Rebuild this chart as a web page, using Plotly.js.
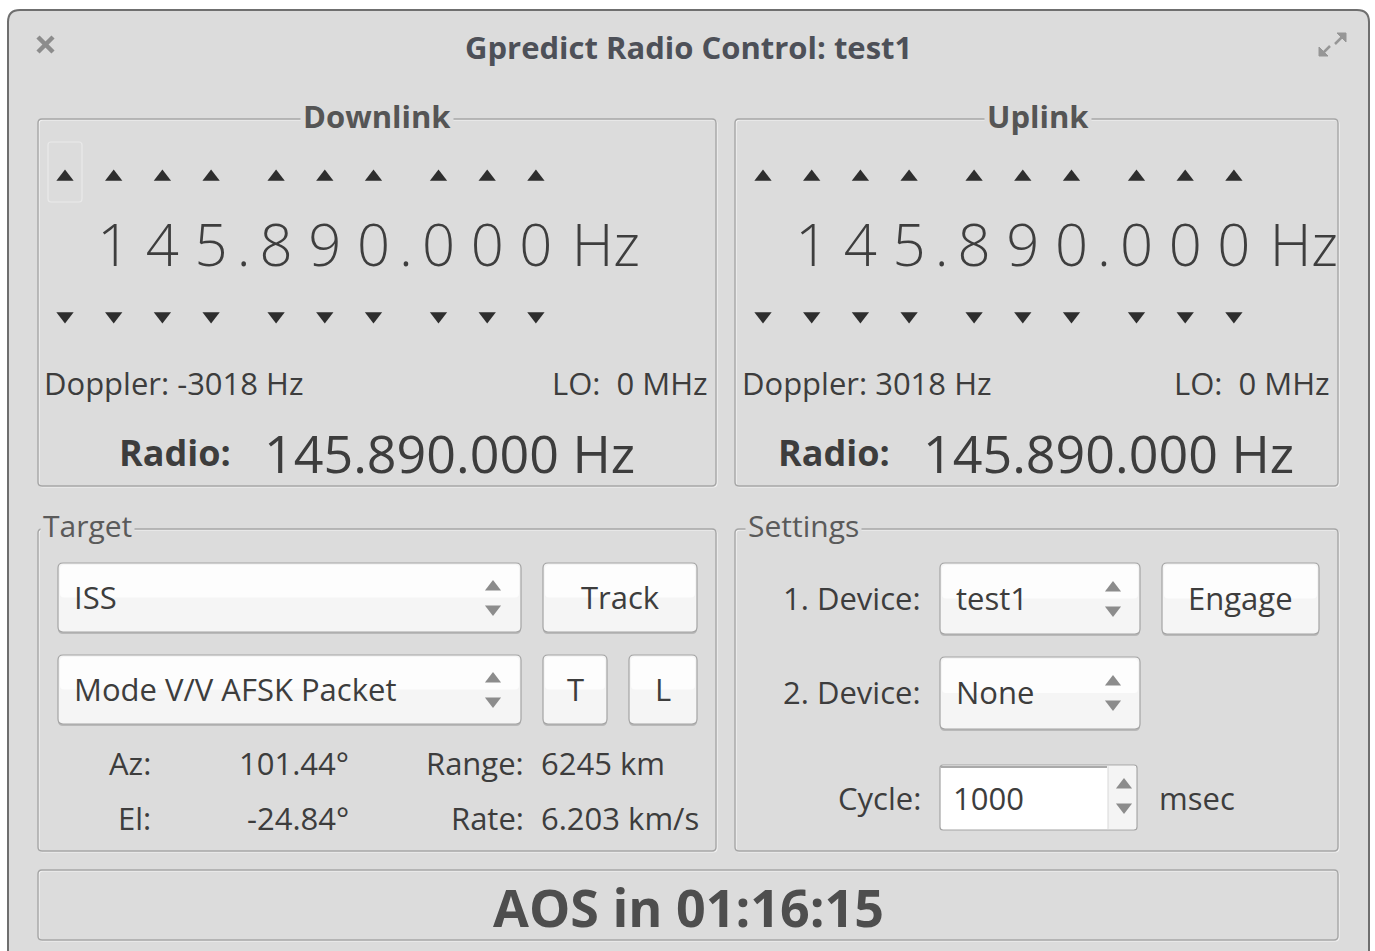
<!DOCTYPE html>
<html>
<head>
<meta charset="utf-8">
<script src="https://cdn.plot.ly/plotly-3.0.1.min.js"></script>
<style>html,body{margin:0;padding:0;background:#fff;}#chart{width:1375px;height:951px;}</style>
</head>
<body>
<div id="chart"></div>
<script>
// ---------- data ----------
const windowTitle = "Gpredict Radio Control: test1";
const panelTitles = ["Downlink", "Uplink", "Target", "Settings"];
const downlinkDigits = [" ", "1", "4", "5", "8", "9", "0", "0", "0", "0"];
const uplinkDigits = [" ", "1", "4", "5", "8", "9", "0", "0", "0", "0"];
const dopplerHz = [-3018, 3018];
const loMHz = [0, 0];
const radioFreq = ["145.890.000 Hz", "145.890.000 Hz"];
const targetSat = "ISS";
const transponder = "Mode V/V AFSK Packet";
const targetLabels = ["Az:", "El:"];
const targetValues = ["101.44°", "-24.84°"];
const rangeLabels = ["Range:", "Rate:"];
const rangeValues = ["6245 km", "6.203 km/s"];
const deviceLabels = ["1. Device:", "2. Device:"];
const deviceValues = ["test1", "None"];
const cycleMsec = 1000;
const aosText = "AOS in 01:16:15";

// ---------- helpers ----------
const FONT = "Open Sans, Noto Sans, sans-serif";
const TXT = "#3d3d3d";
const BG = "#dcdcdc";
function rr(x0, y0, x1, y1, r) {
  return `M${x0 + r},${y0} L${x1 - r},${y0} Q${x1},${y0} ${x1},${y0 + r} L${x1},${y1 - r} Q${x1},${y1} ${x1 - r},${y1} L${x0 + r},${y1} Q${x0},${y1} ${x0},${y1 - r} L${x0},${y0 + r} Q${x0},${y0} ${x0 + r},${y0} Z`;
}
function digitX(base, i) {
  const g = i < 4 ? 0 : (i < 7 ? 1 : 2);
  return base + i * 48.7 + g * 16.3;
}
const shapes = [];
const ann = [];
function shp(path, fill, line, w) {
  shapes.push({type: "path", path: path, xref: "x", yref: "y", layer: "below",
    fillcolor: fill || "rgba(0,0,0,0)", line: {color: line || "rgba(0,0,0,0)", width: w === undefined ? 1 : w}});
}
function txt(x, y, text, size, opts) {
  opts = opts || {};
  ann.push(Object.assign({x: x, y: y, xref: "x", yref: "y", text: text, showarrow: false,
    xanchor: opts.xa || "left", yanchor: "middle",
    font: {family: FONT, size: size, color: opts.color || TXT, weight: opts.bold ? 700 : 400}},
    opts.bg ? {bgcolor: opts.bg, borderpad: 2} : {}));
}
function frame(x0, y0, x1, y1) {
  shp(rr(x0 + 1, y0 + 1, x1 + 1, y1 + 1, 4), null, "#f4f4f4", 1.2);
  shp(rr(x0, y0, x1, y1, 4), null, "#a6a6a6", 1.4);
}
function combo(x0, y0, x1, y1) {
  shp(rr(x0, y0 + 2, x1, y1 + 2, 5), "#b9b9b9", null, 0);
  shp(rr(x0, y0, x1, y1, 5), "#f5f5f5", "#a4a4a4", 1.2);
  shp(rr(x0 + 2, y0 + 2, x1 - 2, (y0 + y1) / 2, 4), "#fdfdfd", null, 0);
}
const spinX = [], spinY = [], spinS = [];
function spinner(x, y) {
  spinX.push(x, x); spinY.push(y - 11, y + 11); spinS.push("triangle-up", "triangle-down");
}

// ---------- window ----------
shp(rr(8, 10, 1369, 990, 12), BG, "#6f6f6f", 2);
txt(688, 47, windowTitle, 31, {xa: "center", bold: true, color: "#4d5058"});
// close icon
shp("M38,37 L53,52", null, "#8c8c8c", 4.5);
shp("M53,37 L38,52", null, "#8c8c8c", 4.5);
// expand icon
shp("M1335,44 L1342,37", null, "#969696", 2.5);
shp("M1337,33 L1346,33 L1346,42 Z", "#969696", "#969696", 1);
shp("M1330,46 L1323,53", null, "#969696", 2.5);
shp("M1319,47 L1319,56 L1328,56 Z", "#969696", "#969696", 1);

// ---------- frames ----------
frame(38, 119, 716, 486);
frame(735, 119, 1338, 486);
frame(38, 529, 716, 851);
frame(735, 529, 1338, 851);
frame(38, 870, 1338, 940);
txt(377, 116, panelTitles[0], 31, {xa: "center", bold: true, bg: BG, color: "#555"});
txt(1038, 116, panelTitles[1], 31, {xa: "center", bold: true, bg: BG, color: "#555"});
txt(40, 525, panelTitles[2], 30, {bg: BG, color: "#5a5a5a"});
txt(745, 525, panelTitles[3], 30, {bg: BG, color: "#5a5a5a"});

// focus box on first arrow
shp(rr(48, 142, 82, 202, 3), null, "#e9e9e9", 1.2);

// ---------- frequency panels ----------
const triX = [], triY = [], triS = [];
const digX = [], digY = [], digT = [];
[[65, downlinkDigits], [763, uplinkDigits]].forEach(function (p) {
  const base = p[0], digits = p[1];
  digits.forEach(function (d, i) {
    const x = digitX(base, i);
    triX.push(x, x); triY.push(177, 316); triS.push("triangle-up", "triangle-down");
    digX.push(x); digY.push(251); digT.push(d);
  });
  digX.push((digitX(base, 3) + digitX(base, 4)) / 2, (digitX(base, 6) + digitX(base, 7)) / 2, digitX(base, 9) + 70);
  digY.push(251, 251, 251);
  digT.push(".", ".", "Hz");
});

txt(42, 383, "Doppler: " + dopplerHz[0] + " Hz", 31);
txt(710, 383, "LO:  " + loMHz[0] + " MHz", 31, {xa: "right"});
txt(740, 383, "Doppler: " + dopplerHz[1] + " Hz", 31);
txt(1332, 383, "LO:  " + loMHz[1] + " MHz", 31, {xa: "right"});
txt(233, 452, "Radio:", 36, {xa: "right", bold: true});
txt(262, 452, radioFreq[0], 52);
txt(892, 452, "Radio:", 36, {xa: "right", bold: true});
txt(921, 452, radioFreq[1], 52);

// ---------- target panel ----------
combo(58, 563, 521, 632);
txt(72, 597, targetSat, 31);
spinner(493, 598);
combo(543, 563, 697, 632);
txt(620, 597, "Track", 31, {xa: "center"});
combo(58, 655, 521, 724);
txt(72, 689, transponder, 31);
spinner(493, 690);
combo(543, 655, 607, 724);
txt(575, 689, "T", 31, {xa: "center"});
combo(629, 655, 697, 724);
txt(663, 689, "L", 31, {xa: "center"});
targetLabels.forEach(function (l, i) {
  const y = [763, 818][i];
  txt(153, y, l, 31, {xa: "right"});
  txt(351, y, targetValues[i], 31, {xa: "right"});
  txt(526, y, rangeLabels[i], 31, {xa: "right"});
  txt(539, y, rangeValues[i], 31);
});

// ---------- settings panel ----------
combo(940, 563, 1140, 634);
txt(954, 598, deviceValues[0], 31);
spinner(1113, 599);
combo(1162, 563, 1319, 634);
txt(1240, 598, "Engage", 31, {xa: "center"});
combo(940, 657, 1140, 729);
txt(954, 692, deviceValues[1], 31);
spinner(1113, 693);
deviceLabels.forEach(function (l, i) {
  txt(923, [598, 692][i], l, 31, {xa: "right"});
});
txt(923, 798, "Cycle:", 31, {xa: "right"});
// spin entry
shp(rr(940, 765, 1137, 830, 3), "#ffffff", "#a4a4a4", 1.2);
shp("M941,767 L1107,767", null, "#8e8e8e", 1.5);
shp(rr(1108, 766, 1136, 829, 2), "#f4f4f4", null, 0);
shp("M1108,766 L1108,829", null, "#d8d8d8", 1);
txt(951, 798, String(cycleMsec), 31);
spinner(1124, 796);
txt(1157, 798, "msec", 31);

// ---------- AOS ----------
txt(688, 906, aosText, 52, {xa: "center", bold: true, color: "#4e4e4e"});

// ---------- traces ----------
const traces = [
  {type: "scatter", mode: "markers", x: triX, y: triY, hoverinfo: "skip",
   marker: {symbol: triS, size: 15, color: "#2e2e2e", line: {width: 0}}},
  {type: "scatter", mode: "markers", x: spinX, y: spinY, hoverinfo: "skip",
   marker: {symbol: spinS, size: 14, color: "#8c8c8c", line: {width: 0}}},
  {type: "scatter", mode: "text", x: digX, y: digY, text: digT, hoverinfo: "skip",
   textposition: "middle center", textfont: {family: FONT, size: 58, color: "#3e3e3e", weight: 350}}
];

const layout = {
  width: 1375, height: 951,
  margin: {l: 0, r: 0, t: 0, b: 0},
  paper_bgcolor: "#ffffff", plot_bgcolor: "#ffffff",
  showlegend: false,
  xaxis: {range: [0, 1375], visible: false, fixedrange: true},
  yaxis: {range: [951, 0], visible: false, fixedrange: true},
  shapes: shapes,
  annotations: ann
};
Plotly.newPlot("chart", traces, layout, {displayModeBar: false, staticPlot: true});
</script>
</body>
</html>
